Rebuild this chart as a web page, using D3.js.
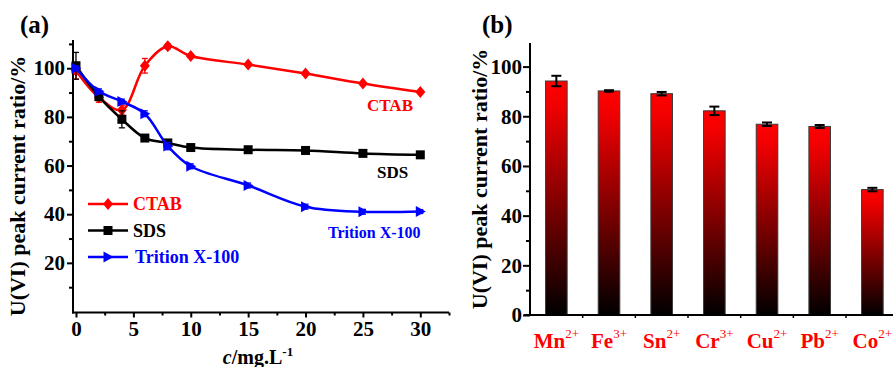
<!DOCTYPE html>
<html>
<head>
<meta charset="utf-8">
<script src="https://cdn.jsdelivr.net/npm/d3@7"></script>
<style>
  body { margin: 0; background: #fff; }
  text { font-family: "Liberation Serif", "Times New Roman", serif; font-weight: bold; }
</style>
</head>
<body>
<div id="chart"></div>
<script>
// panel (a) data
var conc = [0, 2, 4, 6, 8, 10, 15, 20, 25, 30];
var ctab = [99, 88, 82.8, 101, 109, 105, 101.5, 97.8, 93.7, 90.2];
var ctabErr = [3.5, 2, 2, 3, 1, 0.8, 0.6, 0.6, 0.6, 0.6];
var sds = [101, 88.3, 79, 71.3, 69.3, 67.4, 66.5, 66.2, 65, 64.4];
var sdsErr = [5.5, 1.2, 3.5, 0.8, 0.6, 0.6, 0.6, 0.6, 0.6, 0.6];
var triton = [100, 90.5, 86.3, 81.3, 68, 59.7, 51.8, 43.1, 41, 41.1];
var tritonErr = [1, 1, 1, 1.2, 1.5, 1, 1, 1, 1, 0.8];
var xTicksA = [0, 5, 10, 15, 20, 25, 30];
var yTicksA = [20, 40, 60, 80, 100];

// panel (b) data
var ions = ["Mn", "Fe", "Sn", "Cr", "Cu", "Pb", "Co"];
var charges = ["2+", "3+", "2+", "3+", "2+", "2+", "2+"];
var ratios = [94.2, 90.2, 89.1, 82.2, 76.8, 75.9, 50.5];
var ratioErr = [2.1, 0.3, 0.7, 1.7, 0.7, 0.6, 0.7];
var yTicksB = [0, 20, 40, 60, 80, 100];

var W = 893, H = 367;
var svg = d3.select('#chart').append('svg').attr('width', W).attr('height', H);

var defs = svg.append('defs');
var grad = defs.append('linearGradient').attr('id', 'barGrad')
  .attr('x1', 0).attr('y1', 0).attr('x2', 0).attr('y2', 1);
grad.append('stop').attr('offset', 0).attr('stop-color', '#ff0000');
grad.append('stop').attr('offset', 0.1).attr('stop-color', '#f20000');
grad.append('stop').attr('offset', 1).attr('stop-color', '#000000');

function styleAxis(g) {
  g.select('.domain').remove();
  g.selectAll('.tick line').attr('stroke', '#000').attr('stroke-width', 2);
  g.selectAll('.tick text').attr('fill', '#000').style('font-size', '21px')
    .style('font-family', '"Liberation Serif", serif').style('font-weight', 'bold');
}

// ---------- panel (a) ----------
var xA = d3.scaleLinear().domain([-0.26, 32.5]).range([73, 449]);
var yA = d3.scaleLinear().domain([-0.4, 111.6]).range([312.5, 40]);

var gA = svg.append('g');

gA.append('g').attr('transform', 'translate(73,0)')
  .call(d3.axisLeft(yA).tickValues(yTicksA).tickSize(6).tickPadding(2).tickSizeOuter(0))
  .call(styleAxis);
gA.append('g').attr('transform', 'translate(73,0)')
  .call(d3.axisLeft(yA).tickValues([10, 30, 50, 70, 90, 110]).tickSize(4).tickFormat('').tickSizeOuter(0))
  .call(styleAxis);
gA.append('g').attr('transform', 'translate(0,312.5)')
  .call(d3.axisBottom(xA).tickValues(xTicksA).tickSize(5).tickPadding(4).tickSizeOuter(0))
  .call(styleAxis);
gA.append('g').attr('transform', 'translate(0,312.5)')
  .call(d3.axisBottom(xA).tickValues([2.5, 7.5, 12.5, 17.5, 22.5, 27.5, 32.5]).tickSize(3).tickFormat('').tickSizeOuter(0))
  .call(styleAxis);

gA.append('line').attr('x1', 73).attr('x2', 73).attr('y1', 40).attr('y2', 313.5)
  .attr('stroke', '#000').attr('stroke-width', 2);
gA.append('line').attr('x1', 72).attr('x2', 449).attr('y1', 312.5).attr('y2', 312.5)
  .attr('stroke', '#000').attr('stroke-width', 2);

var series = [
  { name: 'CTAB', vals: ctab, err: ctabErr, color: '#ff0000', shape: 'diamond' },
  { name: 'SDS', vals: sds, err: sdsErr, color: '#000000', shape: 'square' },
  { name: 'Trition X-100', vals: triton, err: tritonErr, color: '#0000ff', shape: 'triangle' }
];

function markerPath(shape) {
  if (shape === 'diamond') return 'M0,-6L5,0L0,6L-5,0Z';
  if (shape === 'square') return 'M-4.5,-4.5H4.5V4.5H-4.5Z';
  return 'M-4.5,-5.5L5.5,0L-4.5,5.5Z';
}

var line = d3.line().curve(d3.curveCatmullRom.alpha(0.5))
  .x(function(d) { return xA(d[0]); })
  .y(function(d) { return yA(d[1]); });

series.forEach(function(s) {
  var pts = conc.map(function(c, i) { return [c, s.vals[i], s.err[i]]; });
  var g = gA.append('g');
  g.append('path').datum(pts).attr('d', line)
    .attr('fill', 'none').attr('stroke', s.color).attr('stroke-width', 2.5);
  var eb = g.selectAll('.eb').data(pts).enter().append('g');
  eb.append('line')
    .attr('x1', function(d) { return xA(d[0]); }).attr('x2', function(d) { return xA(d[0]); })
    .attr('y1', function(d) { return yA(d[1] - d[2]); }).attr('y2', function(d) { return yA(d[1] + d[2]); })
    .attr('stroke', s.color).attr('stroke-width', 1.3);
  [1, -1].forEach(function(sg) {
    eb.append('line')
      .attr('x1', function(d) { return xA(d[0]) - 3; }).attr('x2', function(d) { return xA(d[0]) + 3; })
      .attr('y1', function(d) { return yA(d[1] + sg * d[2]); }).attr('y2', function(d) { return yA(d[1] + sg * d[2]); })
      .attr('stroke', s.color).attr('stroke-width', 1.3);
  });
  g.selectAll('.mk').data(pts).enter().append('path')
    .attr('d', markerPath(s.shape))
    .attr('transform', function(d) { return 'translate(' + xA(d[0]) + ',' + yA(d[1]) + ')'; })
    .attr('fill', s.color);
});

// legend (a)
var legY = [204, 230.5, 257];
series.forEach(function(s, i) {
  var lg = gA.append('g').attr('transform', 'translate(0,' + legY[i] + ')');
  lg.append('line').attr('x1', 88).attr('x2', 128).attr('y1', 0).attr('y2', 0)
    .attr('stroke', s.color).attr('stroke-width', 2.5);
  lg.append('path').attr('d', markerPath(s.shape)).attr('transform', 'translate(108,0)').attr('fill', s.color);
  lg.append('text').attr('x', i === 2 ? 135 : 133).attr('y', 6).attr('fill', s.color)
    .style('font-size', '18px').text(s.name);
});

// in-plot labels
gA.append('text').attr('x', 367).attr('y', 111).attr('fill', '#ff0000').style('font-size', '17px').text('CTAB');
gA.append('text').attr('x', 377).attr('y', 178).attr('fill', '#000').style('font-size', '17px').text('SDS');
gA.append('text').attr('x', 328).attr('y', 238).attr('fill', '#0000ff').style('font-size', '16px').text('Trition X-100');

gA.append('text').attr('x', 20).attr('y', 33).style('font-size', '25px').text('(a)');
gA.append('text').attr('transform', 'translate(25,186) rotate(-90)').attr('text-anchor', 'middle')
  .style('font-size', '22px').text('U(VI) peak current ratio/%');
var xl = gA.append('text').attr('x', 258).attr('y', 364).attr('text-anchor', 'middle').style('font-size', '20px');
xl.append('tspan').style('font-style', 'italic').text('c');
xl.append('tspan').text('/mg.L');
xl.append('tspan').attr('dy', -8).style('font-size', '13px').text('-1');

// ---------- panel (b) ----------
var xB = d3.scaleBand().domain(ions).range([530, 898.7]).paddingInner(0.59).paddingOuter(0.295);
var yB = d3.scaleLinear().domain([0, 109.5]).range([315, 43]);
var gB = svg.append('g');

gB.selectAll('.bar').data(ions).enter().append('rect')
  .attr('x', function(d) { return xB(d); })
  .attr('y', function(d, i) { return yB(ratios[i]); })
  .attr('width', xB.bandwidth())
  .attr('height', function(d, i) { return yB(0) - yB(ratios[i]); })
  .attr('fill', 'url(#barGrad)').attr('stroke', '#3a3a3a').attr('stroke-width', 1);

var ebB = gB.selectAll('.ebb').data(ions).enter().append('g')
  .attr('transform', function(d) { return 'translate(' + (xB(d) + xB.bandwidth() / 2) + ',0)'; });
ebB.append('line').attr('x1', 0).attr('x2', 0)
  .attr('y1', function(d, i) { return yB(ratios[i] - ratioErr[i]); })
  .attr('y2', function(d, i) { return yB(ratios[i] + ratioErr[i]); })
  .attr('stroke', '#000').attr('stroke-width', 2);
[1, -1].forEach(function(sg) {
  ebB.append('line').attr('x1', -5).attr('x2', 5)
    .attr('y1', function(d, i) { return yB(ratios[i] + sg * ratioErr[i]); })
    .attr('y2', function(d, i) { return yB(ratios[i] + sg * ratioErr[i]); })
    .attr('stroke', '#000').attr('stroke-width', 2);
});

gB.append('g').attr('transform', 'translate(530,0)')
  .call(d3.axisLeft(yB).tickValues(yTicksB).tickSize(7).tickPadding(1).tickSizeOuter(0))
  .call(styleAxis);
gB.append('g').attr('transform', 'translate(530,0)')
  .call(d3.axisLeft(yB).tickValues([10, 30, 50, 70, 90]).tickSize(4).tickFormat('').tickSizeOuter(0))
  .call(styleAxis);

// category boundary ticks
var bounds = ions.slice(1).map(function(d) { return xB(d) - xB.step() * xB.paddingInner() / 2; });
gB.selectAll('.bt').data(bounds).enter().append('line')
  .attr('x1', function(d) { return d; }).attr('x2', function(d) { return d; })
  .attr('y1', 315).attr('y2', 318).attr('stroke', '#000').attr('stroke-width', 1.5);

gB.append('line').attr('x1', 530).attr('x2', 530).attr('y1', 43).attr('y2', 316)
  .attr('stroke', '#000').attr('stroke-width', 2);
gB.append('line').attr('x1', 524).attr('x2', 893).attr('y1', 315).attr('y2', 315)
  .attr('stroke', '#000').attr('stroke-width', 2);

// ion labels, centred under their bars
ions.forEach(function(d, i) {
  var cx = xB(d) + xB.bandwidth() / 2;
  var t = gB.append('text').attr('x', cx).attr('y', 348).attr('text-anchor', 'middle')
    .attr('fill', '#ff0000').style('font-size', '21px');
  t.append('tspan').text(d);
  t.append('tspan').attr('dy', -10).style('font-size', '13px').style('font-weight', 'normal').text(charges[i]);
});

gB.append('text').attr('x', 482).attr('y', 33).style('font-size', '25px').text('(b)');
gB.append('text').attr('transform', 'translate(487,179) rotate(-90)').attr('text-anchor', 'middle')
  .style('font-size', '22px').text('U(VI) peak current ratio/%');
</script>
</body>
</html>
